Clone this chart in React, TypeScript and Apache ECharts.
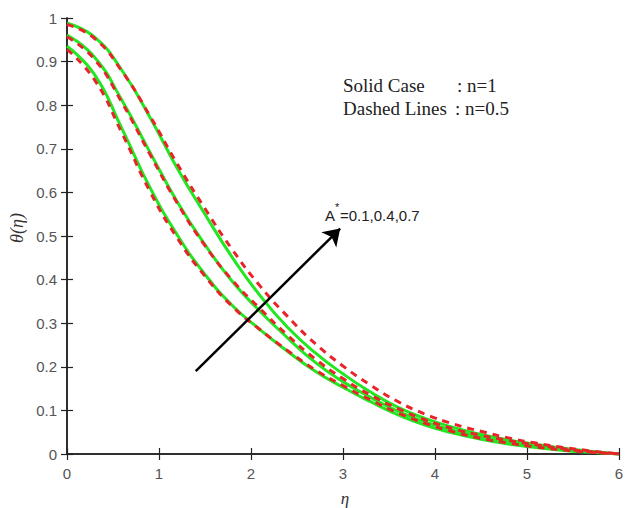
import React, { useEffect, useRef } from "react";
import * as echarts from "echarts";

const eta = [0, 0.3, 0.6, 0.9, 1.2, 1.5, 1.8, 2.1, 2.4, 2.7, 3.0, 3.3, 3.6, 3.9, 4.2, 4.5, 4.8, 5.1, 5.4, 5.7, 6.0];

// Solid lines, n = 1
const solidA01 = [0.935, 0.87, 0.745, 0.612, 0.502, 0.412, 0.34, 0.285, 0.235, 0.19, 0.153, 0.12, 0.09, 0.066, 0.048, 0.034, 0.023, 0.015, 0.008, 0.004, 0];
const solidA04 = [0.961, 0.91, 0.81, 0.693, 0.578, 0.48, 0.395, 0.327, 0.266, 0.21, 0.166, 0.13, 0.098, 0.073, 0.054, 0.04, 0.028, 0.019, 0.011, 0.005, 0];
const solidA07 = [0.988, 0.956, 0.879, 0.773, 0.655, 0.55, 0.45, 0.363, 0.29, 0.232, 0.184, 0.142, 0.107, 0.081, 0.061, 0.045, 0.032, 0.022, 0.013, 0.006, 0];

// Dashed lines, n = 0.5
const dashedA01 = [0.928, 0.858, 0.735, 0.603, 0.495, 0.408, 0.338, 0.285, 0.237, 0.193, 0.157, 0.124, 0.094, 0.07, 0.051, 0.036, 0.025, 0.016, 0.009, 0.004, 0];
const dashedA04 = [0.957, 0.905, 0.805, 0.688, 0.575, 0.478, 0.398, 0.333, 0.272, 0.218, 0.173, 0.135, 0.104, 0.078, 0.058, 0.043, 0.031, 0.021, 0.012, 0.005, 0];
const dashedA07 = [0.985, 0.953, 0.877, 0.776, 0.665, 0.563, 0.468, 0.385, 0.315, 0.253, 0.202, 0.158, 0.12, 0.091, 0.069, 0.052, 0.037, 0.025, 0.015, 0.007, 0];

const arrowFrom = [1.4, 0.19];
const arrowTo = [2.97, 0.517];

const GREEN = "#22e622";
const RED = "#e8242a";

const pairs = (ys: number[]) => eta.map((x, i) => [x, ys[i]]);

export default function App() {
  const ref = useRef<HTMLDivElement>(null);
  useEffect(() => {
    document.body.style.margin = "0";
    if (!ref.current) return;
    const chart = echarts.init(ref.current, null, { renderer: "svg" });
    const axisLine = { show: true, lineStyle: { color: "#222", width: 1.5 } };
    const tick = { show: true, inside: true, length: 6, lineStyle: { color: "#222", width: 1.2 } };
    const label = { color: "#555", fontSize: 15, fontFamily: "Liberation Sans, Arial, sans-serif" };
    const solid = (name: string, ys: number[]) => ({
      name, type: "line", data: pairs(ys), smooth: true, symbol: "none",
      lineStyle: { color: GREEN, width: 3 }, z: 2,
    });
    const dashed = (name: string, ys: number[]) => ({
      name, type: "line", data: pairs(ys), smooth: true, symbol: "none",
      lineStyle: { color: RED, width: 3, type: [7, 6] }, z: 3,
    });
    chart.setOption({
      animation: false,
      backgroundColor: "#fff",
      grid: { left: 67, right: 4, top: 18, bottom: 54 },
      xAxis: [
        { type: "value", min: 0, max: 6, interval: 1, position: "bottom", axisLine, axisTick: tick,
          axisLabel: { ...label, margin: 12 }, splitLine: { show: false } },
        { type: "value", min: 0, max: 6, interval: 1, position: "top", axisLine, axisTick: tick,
          axisLabel: { show: false }, splitLine: { show: false } },
      ],
      yAxis: [
        { type: "value", min: 0, max: 1, interval: 0.1, position: "left", axisLine, axisTick: tick,
          axisLabel: { ...label, margin: 10, formatter: (v: number) => String(+v.toFixed(1)) }, splitLine: { show: false } },
        { type: "value", min: 0, max: 1, interval: 0.1, position: "right", axisLine, axisTick: tick,
          axisLabel: { show: false }, splitLine: { show: false } },
      ],
      series: [
        solid("A*=0.1, n=1", solidA01),
        solid("A*=0.4, n=1", solidA04),
        solid("A*=0.7, n=1", solidA07),
        dashed("A*=0.1, n=0.5", dashedA01),
        dashed("A*=0.4, n=0.5", dashedA04),
        dashed("A*=0.7, n=0.5", dashedA07),
        {
          type: "lines", coordinateSystem: "cartesian2d", z: 5,
          symbol: ["none", "arrow"], symbolSize: [12, 16],
          lineStyle: { color: "#000", width: 2.5, opacity: 1 },
          data: [{ coords: [arrowFrom, arrowTo] }],
        },
      ],
      graphic: [
        { type: "text", x: 17, y: 228, rotation: Math.PI / 2,
          style: { text: "θ(η)", font: "italic 18px 'Liberation Serif', serif", fill: "#333", align: "center", verticalAlign: "middle" } },
        { type: "text", x: 345, y: 498,
          style: { text: "η", font: "italic 17px 'Liberation Serif', serif", fill: "#333", align: "center", verticalAlign: "middle" } },
        { type: "text", x: 343, y: 85,
          style: { text: "Solid Case", font: "19px 'Liberation Serif', serif", fill: "#222", verticalAlign: "middle" } },
        { type: "text", x: 457, y: 85,
          style: { text: ": n=1", font: "19px 'Liberation Serif', serif", fill: "#222", verticalAlign: "middle" } },
        { type: "text", x: 343, y: 108,
          style: { text: "Dashed Lines", font: "19px 'Liberation Serif', serif", fill: "#222", verticalAlign: "middle" } },
        { type: "text", x: 455, y: 108,
          style: { text: ": n=0.5", font: "19px 'Liberation Serif', serif", fill: "#222", verticalAlign: "middle" } },
        { type: "text", x: 325, y: 215,
          style: { text: "A", font: "15px 'Liberation Sans', sans-serif", fill: "#222", verticalAlign: "middle" } },
        { type: "text", x: 335, y: 207,
          style: { text: "*", font: "11px 'Liberation Sans', sans-serif", fill: "#222", verticalAlign: "middle" } },
        { type: "text", x: 340, y: 215,
          style: { text: "=0.1,0.4,0.7", font: "15px 'Liberation Sans', sans-serif", fill: "#222", verticalAlign: "middle" } },
      ],
    });
    return () => chart.dispose();
  }, []);
  return <div ref={ref} style={{ width: 626, height: 508 }} />;
}
